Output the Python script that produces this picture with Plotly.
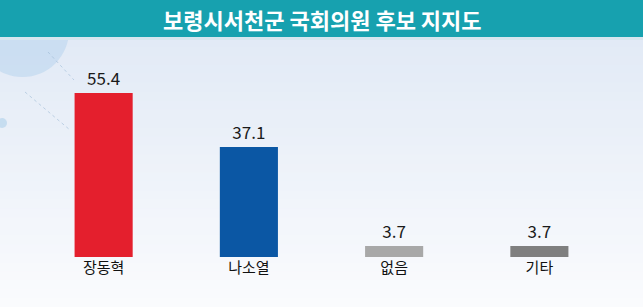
import plotly.graph_objects as go

# ---- data ----
categories = ["장동혁", "나소열", "없음", "기타"]
values = [55.4, 37.1, 3.7, 3.7]
bar_colors = ["#e41f2d", "#0b57a4", "#a8a8a8", "#7f7f7f"]
title_text = "보령시서천군 국회의원 후보 지지도"

W, H = 643, 307
ML, MR, MT, MB = 31, 31, 60, 50
PW, PH = W - ML - MR, H - MT - MB


def px_x(px):
    return (px - ML) / PW


def px_y(py):
    return (H - MB - py) / PH


fig = go.Figure()
fig.add_trace(go.Bar(
    x=categories, y=values,
    marker=dict(color=bar_colors, line=dict(width=0)),
    texttemplate="%{y:.1f}", textposition="outside", cliponaxis=False,
    textfont=dict(family="Noto Sans CJK KR", size=17, color="#1a1a1a"),
    hoverinfo="skip",
))

shapes = []
# background gradient
top_c = (226, 234, 246)
bot_c = (250, 251, 253)
n = 30
y0p, y1p = 38, H
for i in range(n):
    a = y0p + (y1p - y0p) * i / n
    b = y0p + (y1p - y0p) * (i + 1) / n
    t = i / (n - 1)
    c = tuple(round(top_c[k] + (bot_c[k] - top_c[k]) * t) for k in range(3))
    shapes.append(dict(type="rect", xref="paper", yref="paper", layer="below",
                       x0=px_x(0), x1=px_x(W), y0=px_y(b + 0.5), y1=px_y(a),
                       fillcolor="rgb(%d,%d,%d)" % c, line=dict(width=0)))
# decorative circle, dot and dotted lines
shapes.append(dict(type="circle", xref="paper", yref="paper", layer="below",
                   x0=px_x(-24), x1=px_x(69), y0=px_y(77), y1=px_y(-16),
                   fillcolor="rgba(180,210,238,0.5)", line=dict(width=0)))
shapes.append(dict(type="circle", xref="paper", yref="paper", layer="below",
                   x0=px_x(-3), x1=px_x(7), y0=px_y(128), y1=px_y(118),
                   fillcolor="rgba(175,208,235,0.6)", line=dict(width=0)))
shapes.append(dict(type="line", xref="paper", yref="paper", layer="below",
                   x0=px_x(25), x1=px_x(70), y0=px_y(92), y1=px_y(130),
                   line=dict(color="rgba(150,180,210,0.55)", width=1, dash="dot")))
shapes.append(dict(type="line", xref="paper", yref="paper", layer="below",
                   x0=px_x(48), x1=px_x(74), y0=px_y(52), y1=px_y(80),
                   line=dict(color="rgba(150,180,210,0.55)", width=1, dash="dot")))
# title bar
shapes.append(dict(type="rect", xref="paper", yref="paper", layer="below",
                   x0=px_x(0), x1=px_x(W), y0=px_y(37), y1=px_y(0),
                   fillcolor="#17a1af", line=dict(width=0)))
shapes.append(dict(type="rect", xref="paper", yref="paper", layer="below",
                   x0=px_x(0), x1=px_x(W), y0=px_y(40), y1=px_y(37),
                   fillcolor="#d6e6ef", line=dict(width=0)))

fig.update_layout(
    width=W, height=H,
    margin=dict(l=ML, r=MR, t=MT, b=MB, pad=0),
    paper_bgcolor="#eef3fa", plot_bgcolor="rgba(0,0,0,0)",
    showlegend=False, bargap=0.6,
    shapes=shapes,
    annotations=[dict(text="<b>" + title_text + "</b>", xref="paper", yref="paper",
                      x=px_x(322), y=px_y(19), showarrow=False,
                      xanchor="center", yanchor="middle",
                      font=dict(family="Noto Sans CJK KR", size=22, color="white"))],
    xaxis=dict(showgrid=False, zeroline=False, showline=False, ticks="",
               tickfont=dict(family="Noto Sans CJK KR", size=15, color="#111111")),
    yaxis=dict(range=[0, 66.5], visible=False, showgrid=False, zeroline=False),
)

fig.write_html("out.html")
